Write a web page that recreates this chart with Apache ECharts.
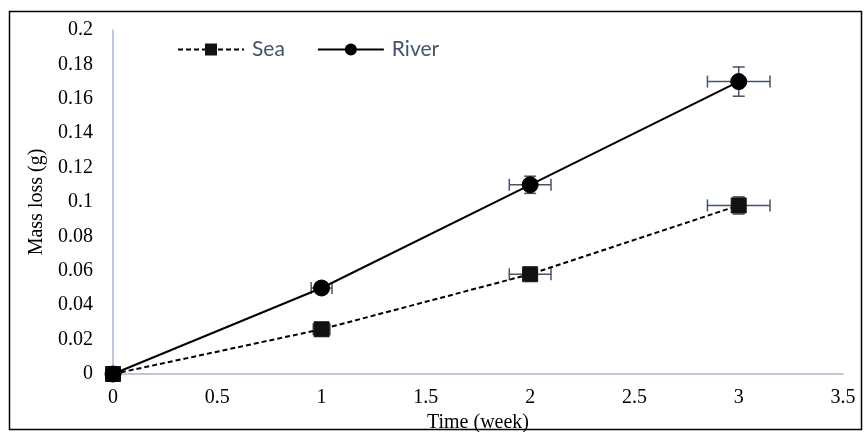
<!DOCTYPE html>
<html><head><meta charset="utf-8">
<script src="https://cdn.jsdelivr.net/npm/echarts@6/dist/echarts.min.js"></script>
<style>html,body{margin:0;padding:0;background:#fff}#c{width:864px;height:432px}</style>
</head><body><div id="c"></div>
<script>
const weeks = [0, 1, 2, 3];
const seaValues = [0, 0.026, 0.058, 0.098];
const riverValues = [0, 0.05, 0.11, 0.17];
const seaXErr = [0, 0.04, 0.1, 0.15];
const seaYErr = [0, 0.002, 0.003, 0.005];
const riverXErr = [0, 0.05, 0.1, 0.15];
const riverYErr = [0, 0.003, 0.005, 0.0085];
const xTicks = [0, 0.5, 1, 1.5, 2, 2.5, 3, 3.5];
const yTicks = [0, 0.02, 0.04, 0.06, 0.08, 0.1, 0.12, 0.14, 0.16, 0.18, 0.2];

const ERR = '#44546A';
function errData(vals, xe, ye) {
  return weeks.map((w, i) => [w, vals[i], xe[i], ye[i]]);
}
function renderErr(params, api) {
  const x = api.value(0), y = api.value(1), xe = api.value(2), ye = api.value(3);
  const c = api.coord([x, y]);
  const children = [];
  const style = {stroke: ERR, lineWidth: 1.5};
  const cap = 6;
  if (xe > 0) {
    const l = api.coord([x - xe, y]), r = api.coord([x + xe, y]);
    children.push({type: 'line', shape: {x1: l[0], y1: c[1], x2: r[0], y2: c[1]}, style});
    children.push({type: 'line', shape: {x1: l[0], y1: c[1] - cap, x2: l[0], y2: c[1] + cap}, style});
    children.push({type: 'line', shape: {x1: r[0], y1: c[1] - cap, x2: r[0], y2: c[1] + cap}, style});
  }
  if (ye > 0) {
    const t = api.coord([x, y + ye]), b = api.coord([x, y - ye]);
    children.push({type: 'line', shape: {x1: c[0], y1: t[1], x2: c[0], y2: b[1]}, style});
    children.push({type: 'line', shape: {x1: c[0] - cap, y1: t[1], x2: c[0] + cap, y2: t[1]}, style});
    children.push({type: 'line', shape: {x1: c[0] - cap, y1: b[1], x2: c[0] + cap, y2: b[1]}, style});
  }
  return {type: 'group', children};
}

const chart = echarts.init(document.getElementById('c'), null, {renderer: 'canvas'});
const serif = '"Liberation Serif", "Times New Roman", serif';
chart.setOption({
  animation: false,
  backgroundColor: '#fff',
  graphic: [{type: 'rect', shape: {x: 9.5, y: 11.5, width: 852, height: 418}, style: {fill: 'none', stroke: '#000', lineWidth: 1.5}, z: 100}],
  grid: {left: 113, right: 21, top: 30, bottom: 58, containLabel: false, outerBoundsMode: 'none'},
  legend: {
    left: 177, top: 39, padding: 0, itemWidth: 66, itemHeight: 15, itemGap: 32,
    textStyle: {color: '#44546A', fontSize: 21, fontFamily: 'Lato, "Open Sans", sans-serif', padding: [0, 0, 0, 3]},
    data: ['Sea', 'River']
  },
  xAxis: {
    type: 'value', min: 0, max: 3.5, interval: 0.5,
    name: 'Time (week)', nameLocation: 'middle', nameGap: 33,
    nameTextStyle: {fontFamily: serif, fontSize: 20, color: '#000'},
    axisLine: {show: true, lineStyle: {color: '#A9B8CC', width: 1.5}},
    axisTick: {show: false}, splitLine: {show: false},
    axisLabel: {fontFamily: serif, fontSize: 20, color: '#000', margin: 14, formatter: v => String(v)}
  },
  yAxis: {
    type: 'value', min: 0, max: 0.2, interval: 0.02,
    name: 'Mass loss (g)', nameLocation: 'middle', nameGap: 62,
    nameTextStyle: {fontFamily: serif, fontSize: 20, color: '#000'},
    axisLine: {show: true, lineStyle: {color: '#A9B8CC', width: 1.5}},
    axisTick: {show: false}, splitLine: {show: false},
    axisLabel: {fontFamily: serif, fontSize: 20, color: '#000', margin: 20, formatter: v => String(+v.toFixed(2))}
  },
  series: [
    {type: 'custom', name: 'seaErr', renderItem: renderErr, data: errData(seaValues, seaXErr, seaYErr), z: 1, silent: true},
    {type: 'custom', name: 'riverErr', renderItem: renderErr, data: errData(riverValues, riverXErr, riverYErr), z: 1, silent: true},
    {type: 'line', name: 'Sea', data: weeks.map((w, i) => [w, seaValues[i]]),
     symbol: 'rect', symbolSize: 15, z: 3,
     lineStyle: {color: '#000', width: 2, type: [5, 3]},
     itemStyle: {color: '#111', borderColor: '#111'}},
    {type: 'line', name: 'River', data: weeks.map((w, i) => [w, riverValues[i]]),
     symbol: 'circle', symbolSize: 16, z: 4,
     lineStyle: {color: '#000', width: 2},
     itemStyle: {color: '#000', borderColor: '#000'}}
  ]
});
</script></body></html>
